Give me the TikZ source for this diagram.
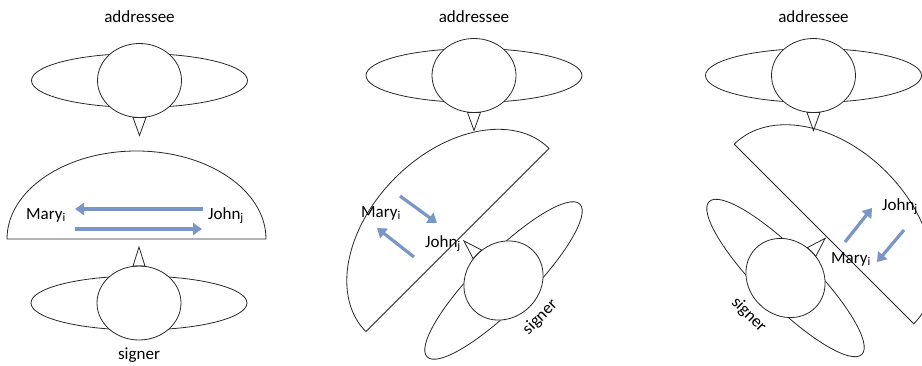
\documentclass[tikz,border=0pt]{standalone}
\usepackage{fontspec}
\setmainfont{Carlito}
\usetikzlibrary{arrows.meta}
\definecolor{sweepblue}{RGB}{122,150,201}
\definecolor{inkgray}{RGB}{40,40,40}
\tikzset{
  outline/.style={draw=inkgray, line width=0.8pt},
  head/.style={outline, fill=white},
  sweep/.style={-{Triangle[length=9pt, width=12pt]}, line width=3.2pt, sweepblue},
  lbl/.style={font=\fontsize{17}{20}\selectfont, text=black, inner sep=0pt}
}
\begin{document}
\begin{tikzpicture}[x=1pt, y=1pt]
  \useasboundingbox (0,0) rectangle (922,365);
  \clip (0,0) rectangle (922,365);
  % addressee heads
  \foreach \i/\cx/\cy in {1/139.5/284.5, 2/474/289.5, 3/813.5/289.5} {
    \draw[outline] (\cx,\cy) ellipse [x radius=108, y radius=27];
    \draw[head] (\cx,\cy) ellipse [x radius=42, y radius=37];
    \draw[outline] (\cx-6.5,\cy-37) -- (\cx,\cy-55) -- (\cx+6.5,\cy-37) -- cycle;
    \node[lbl] (addr\i) at (\cx,348) {addressee};
  }
  % signing spaces
  \foreach \cx/\cy/\r/\a in {136.5/126/0/129.5, 457.5/125/45/129.5, 824/131/-45/127}
    \draw[outline, shift={(\cx,\cy)}, rotate=\r] (\a,0)
      arc[start angle=0, end angle=180, x radius=\a, y radius=88] -- cycle;
  % signer heads
  \foreach \i/\cx/\cy/\r in {1/139/62/0, 2/503.5/84.5/45, 3/785.5/87/-45} {
    \begin{scope}[shift={(\cx,\cy)}, rotate=\r]
      \draw[outline] (0,0) ellipse [x radius=108, y radius=27];
      \draw[head] (0,0) ellipse [x radius=42, y radius=37];
      \draw[outline] (-6,37) -- (0,56) -- (6,37) -- cycle;
      \node[lbl, rotate=\r] (signer\i) at (0,-52) {signer};
    \end{scope}
  }
  % referents
  \node[lbl, anchor=base west] (mary1) at (26,146) {Mary\textsubscript{i}};
  \node[lbl, anchor=base west] (john1) at (208,146) {John\textsubscript{j}};
  \node[lbl, anchor=base west] (mary2) at (361,148) {Mary\textsubscript{i}};
  \node[lbl, anchor=base west] (john2) at (425,118) {John\textsubscript{j}};
  \node[lbl, anchor=base west] (mary3) at (831,102) {Mary\textsubscript{i}};
  \node[lbl, anchor=base west] (john3) at (882,155) {John\textsubscript{j}};
  % movement arrows
  \foreach \n/\sx/\sy/\ex/\ey in {p/203/156/75/156, q/75/136/202/136,
      r/400/169/437/142, s/414/108/377/137, t/845/123/872/157, u/904/135/877/103} {
    \coordinate (\n s) at (\sx,\sy);
    \coordinate (\n e) at (\ex,\ey);
    \draw[sweep] (\n s) -- (\n e);
  }
\end{tikzpicture}
\end{document}
